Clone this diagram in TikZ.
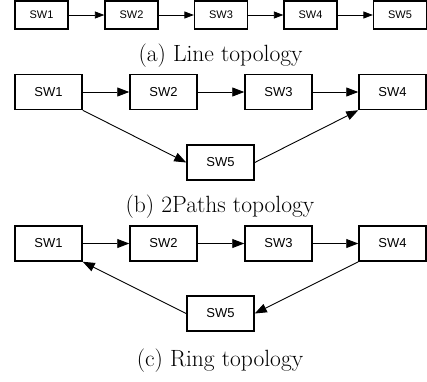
\documentclass[tikz,border=0pt]{standalone}
\usepackage{fontspec}
\newfontfamily\boxfont{Liberation Sans}
\usetikzlibrary{arrows.meta}
\tikzset{
	swsmall/.style={draw, line width=1.3pt, minimum width=53pt, minimum height=28pt, inner sep=0pt, font=\boxfont\fontsize{11}{13}\selectfont},
	swbig/.style={draw, line width=1.5pt, minimum width=67pt, minimum height=35pt, inner sep=0pt, font=\boxfont\fontsize{13}{15}\selectfont},
	linksmall/.style={line width=0.8pt, -{Triangle[length=9.5pt,width=7pt]}},
	linkbig/.style={line width=0.9pt, -{Triangle[length=12pt,width=9pt]}},
	caption/.style={anchor=base, font=\fontsize{23.5}{27}\selectfont}
}

\begin{document}
\begin{tikzpicture}[x=1pt,y=-1pt]
		%%%%% START %%%%%
		\useasboundingbox (0, 0) rectangle (427, 381);
		
		% (a) line
		\node[swsmall] (a1) at (41.5, 15) {SW1};
		\node[swsmall] (a2) at (131.5, 15) {SW2};
		\node[swsmall] (a3) at (221, 15) {SW3};
		\node[swsmall] (a4) at (310.5, 15) {SW4};
		\node[swsmall] (a5) at (400, 15) {SW5};
		\draw[linksmall] (a1) -- (a2);
		\draw[linksmall] (a2) -- (a3);
		\draw[linksmall] (a3) -- (a4);
		\draw[linksmall] (a4) -- (a5);
		\node[caption] (capa) at (220.5, 61) {(a) Line topology};
		
		% (b) 2paths
		\node[swbig] (b1) at (48.5, 92) {SW1};
		\node[swbig] (b2) at (163.5, 92) {SW2};
		\node[swbig] (b3) at (278.5, 92) {SW3};
		\node[swbig] (b4) at (392.5, 92) {SW4};
		\node[swbig] (b5) at (220.5, 162.5) {SW5};
		\draw[linkbig] (b1) -- (b2);
		\draw[linkbig] (b2) -- (b3);
		\draw[linkbig] (b3) -- (b4);
		\draw[linkbig] (b1.south east) -- (b5.west);
		\draw[linkbig] (b5.east) -- (b4.south west);
		\node[caption] (capb) at (220, 212) {(b) 2Paths topology};
		
		% (c) ring
		\node[swbig] (c1) at (48.5, 243.5) {SW1};
		\node[swbig] (c2) at (163.5, 243.5) {SW2};
		\node[swbig] (c3) at (278.5, 243.5) {SW3};
		\node[swbig] (c4) at (392.5, 243.5) {SW4};
		\node[swbig] (c5) at (220.5, 313.5) {SW5};
		\draw[linkbig] (c1) -- (c2);
		\draw[linkbig] (c2) -- (c3);
		\draw[linkbig] (c3) -- (c4);
		\draw[linkbig] (c4.south west) -- (c5.east);
		\draw[linkbig] (c5.west) -- (c1.south east);
		\node[caption] (capc) at (220, 366) {(c) Ring topology};
		
		%%%%% END %%%%%
	\end{tikzpicture}
\end{document}
